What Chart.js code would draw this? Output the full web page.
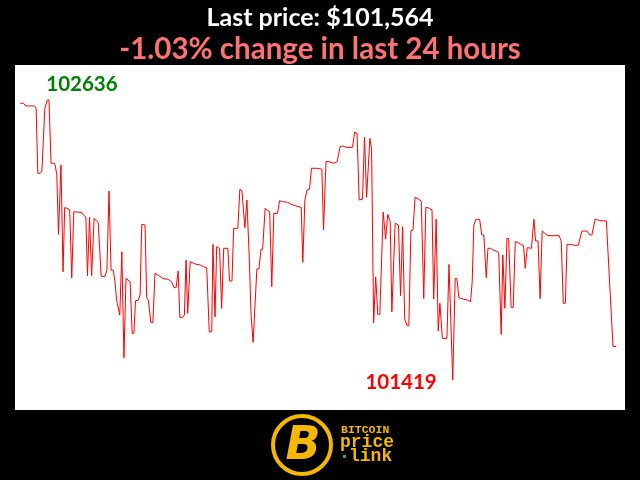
<!DOCTYPE html>
<html lang="en">
<head>
    <meta charset="UTF-8">
    <title>Bitcoin price - last 24 hours</title>
    <script src="https://cdn.jsdelivr.net/npm/chart.js"></script>
    <style>
        body { margin: 0; background: #000; }
        canvas { display: block; }
    </style>
</head>
<body>
    <canvas id="priceChart" width="640" height="480"></canvas>

    <script>
        // minutes since the start of the 24h window
        const times = [0, 8, 14, 35, 39, 43, 49, 53, 60, 66, 70, 75, 83, 85, 89, 93, 99, 104, 108, 114,
            120, 125, 130, 149, 153, 159, 163, 168, 173, 179, 185, 189, 196, 205, 210, 215, 220, 225, 229, 234,
            241, 246, 251, 256, 266, 271, 275, 279, 286, 290, 294, 302, 306, 310, 316, 321, 326, 333, 345, 358,
            366, 372, 377, 382, 386, 393, 397, 401, 405, 411, 423, 436, 443, 451, 457, 463, 466, 471, 475, 482,
            487, 492, 502, 506, 512, 516, 526, 531, 536, 543, 548, 554, 558, 563, 572, 577, 582, 586, 592, 596,
            603, 608, 613, 622, 627, 634, 646, 653, 665, 679, 683, 688, 693, 699, 704, 717, 729, 733, 739, 746,
            758, 766, 773, 780, 787, 803, 808, 814, 819, 827, 832, 837, 845, 849, 854, 859, 864, 869, 877, 883,
            888, 894, 898, 906, 914, 919, 924, 929, 935, 939, 944, 949, 954, 962, 969, 975, 980, 989, 995, 999,
            1005, 1010, 1014, 1020, 1031, 1036, 1045, 1051, 1055, 1060, 1071, 1081, 1088, 1092, 1096, 1101, 1110, 1115, 1120, 1126,
            1130, 1136, 1142, 1150, 1156, 1162, 1166, 1171, 1176, 1180, 1186, 1191, 1196, 1202, 1208, 1216, 1220, 1225, 1235, 1241,
            1245, 1251, 1256, 1261, 1267, 1275, 1302, 1307, 1312, 1317, 1321, 1333, 1337, 1348, 1357, 1369, 1376, 1381, 1389, 1400,
            1416, 1432, 1440];

        // BTC price in USD
        const prices = [102622, 102622, 102610, 102610, 102600, 102317, 102317, 102327, 102600, 102636, 102636, 102361, 102361, 102353, 102310, 102052, 102353, 101889, 102168, 102165,
            102158, 101863, 102150, 102147, 102136, 102128, 101872, 102126, 101872, 102121, 102110, 102104, 101869, 101869, 101896, 102240, 101896, 101896, 101853, 101759,
            101701, 101976, 101515, 101860, 101846, 101621, 101621, 101763, 101766, 101788, 102095, 102092, 101776, 101766, 101669, 101669, 101882, 101875, 101860, 101856,
            101846, 101820, 101820, 101892, 101691, 101691, 101701, 101940, 101708, 101933, 101923, 101918, 101911, 101907, 101628, 101628, 102008, 101693, 101998, 101991,
            101730, 101991, 101991, 101849, 101849, 102078, 102078, 102248, 102241, 102081, 102201, 101933, 101701, 101582, 101901, 101901, 101987, 101987, 102165, 102158,
            102150, 101824, 102143, 102143, 102198, 102194, 102191, 102184, 102176, 102169, 101930, 102201, 102244, 102248, 102339, 102339, 102335, 102071, 102368, 102368,
            102361, 102368, 102433, 102436, 102430, 102430, 102496, 102491, 102201, 102204, 102474, 102213, 102469, 102426, 101667, 101867, 101704, 101704, 102148, 102031,
            102139, 102107, 101715, 102100, 102092, 101785, 102085, 101683, 101654, 101654, 102067, 102070, 102213, 102205, 102197, 101773, 102169, 102165, 102158, 101770,
            102118, 101631, 101752, 101599, 101599, 101921, 101419, 101860, 101860, 101776, 101770, 101766, 101759, 101846, 102092, 102117, 102117, 102049, 102049, 101863,
            101991, 101991, 101984, 101979, 101973, 101617, 101962, 101730, 102034, 102034, 101734, 101734, 102020, 102017, 102010, 102002, 101904, 101994, 101991, 102117,
            102023, 102023, 101773, 102067, 102056, 102046, 102046, 102023, 101752, 101752, 102008, 102008, 102004, 102004, 102066, 102066, 102049, 102049, 102118, 102111,
            102110, 101564, 101564];

        const lastPrice = '$101,564';
        const changePct = '-1.03%';

        const points = times.map((t, i) => ({ x: t, y: prices[i] }));

        // white plot box on black page
        const plotBackground = {
            id: 'plotBackground',
            beforeDraw(chart) {
                const c = chart.ctx;
                const a = chart.chartArea;
                c.save();
                c.fillStyle = '#000';
                c.fillRect(0, 0, chart.width, chart.height);
                c.fillStyle = '#fff';
                c.fillRect(a.left, a.top, a.right - a.left, a.bottom - a.top);
                c.restore();
            }
        };

        // high / low labels next to the extreme points
        const extremes = {
            id: 'extremes',
            afterDatasetsDraw(chart) {
                const c = chart.ctx;
                const xs = chart.scales.x, ys = chart.scales.y;
                const hi = prices.indexOf(Math.max(...prices));
                const lo = prices.indexOf(Math.min(...prices));
                c.save();
                c.font = 'bold 20.5px Lato';
                c.textBaseline = 'middle';
                c.fillStyle = '#008000';
                c.textAlign = 'left';
                c.fillText(String(prices[hi]), xs.getPixelForValue(times[hi]) - 1, ys.getPixelForValue(prices[hi]) - 16);
                c.fillStyle = '#ff0000';
                c.textAlign = 'right';
                c.fillText(String(prices[lo]), xs.getPixelForValue(times[lo]) - 16, ys.getPixelForValue(prices[lo]) + 3);
                c.restore();
            }
        };

        // site logo under the chart
        const logo = {
            id: 'logo',
            afterDraw(chart) {
                const c = chart.ctx;
                const cx = 302, cy = 445;
                c.save();
                c.strokeStyle = '#f5b800';
                c.lineWidth = 4;
                c.beginPath();
                c.arc(cx, cy, 29, 0, Math.PI * 2);
                c.stroke();
                c.fillStyle = '#f5b800';
                c.font = 'bold italic 46px "DejaVu Sans"';
                c.textAlign = 'center';
                c.textBaseline = 'middle';
                c.fillText('B', cx + 1, cy + 2);
                c.textAlign = 'left';
                c.textBaseline = 'alphabetic';
                c.font = 'bold 11.5px "Liberation Mono"';
                c.fillText('BITCOIN', 341, 433);
                c.font = 'bold 18px "Liberation Mono"';
                c.fillText('price', 340, 447);
                c.fillText('link', 349, 461);
                c.fillStyle = '#2bb52b';
                c.fillRect(343, 455, 3, 3);
                c.restore();
            }
        };

        const ctx = document.getElementById('priceChart').getContext('2d');
        new Chart(ctx, {
            type: 'line',
            data: {
                datasets: [{
                    data: points,
                    borderColor: '#ff0000',
                    borderWidth: 1,
                    pointRadius: 0,
                    tension: 0,
                    fill: false
                }]
            },
            options: {
                responsive: false,
                animation: false,
                devicePixelRatio: 1,
                layout: { padding: { left: 15, right: 15, top: 0, bottom: 70 } },
                scales: {
                    x: { type: 'linear', display: false, min: -12, max: 1461 },
                    y: { display: false, min: 101288, max: 102788 }
                },
                plugins: {
                    legend: { display: false },
                    tooltip: { enabled: false },
                    title: {
                        display: true,
                        text: 'Last price: ' + lastPrice,
                        color: '#ffffff',
                        font: { family: 'Lato', size: 25, weight: 'bold', lineHeight: 1 },
                        padding: { top: 5, bottom: 0 }
                    },
                    subtitle: {
                        display: true,
                        text: changePct + ' change in last 24 hours',
                        color: '#ff7272',
                        font: { family: 'Lato', size: 29.5, weight: 'bold', lineHeight: 1 },
                        padding: { top: 5, bottom: 0.5 }
                    }
                }
            },
            plugins: [plotBackground, extremes, logo]
        });
    </script>
</body>
</html>
